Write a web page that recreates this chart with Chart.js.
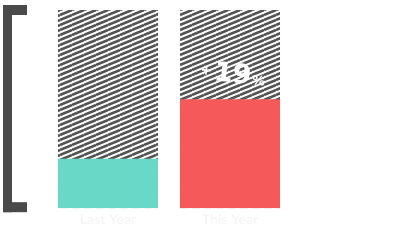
<!DOCTYPE html>
<html>
<head>
<meta charset="utf-8">
<script src="https://cdn.jsdelivr.net/npm/chart.js@4/dist/chart.umd.min.js"></script>
<style>
  body { margin: 0; background: #fff; }
  #wrap { width: 400px; height: 240px; }
</style>
</head>
<body>
<div id="wrap"><canvas id="chart"></canvas></div>
<script>
const labels = ['Last Year', 'This Year'];
const values = [25, 55];
const maxValues = [100, 100];
const barColors = ['#6ad8c6', '#f55959'];
const changeText = ['+', '19', '%'];

function makeStripes() {
  const tile = document.createElement('canvas');
  const w = 12, h = 5;
  tile.width = w;
  tile.height = h;
  const c = tile.getContext('2d');
  c.fillStyle = '#fff';
  c.fillRect(0, 0, w, h);
  c.strokeStyle = '#555';
  c.lineWidth = 2.6;
  for (let k = -1; k <= 1; k++) {
    c.beginPath();
    c.moveTo(0, h + k * h);
    c.lineTo(w, k * h);
    c.stroke();
  }
  return c.createPattern(tile, 'repeat');
}

const bracket = {
  id: 'bracket',
  beforeDraw(chart) {
    const ctx = chart.ctx;
    const area = chart.chartArea;
    const top = area.top - 5;
    const bottom = area.bottom + 4;
    ctx.save();
    ctx.fillStyle = '#4a4a4a';
    ctx.fillRect(3, top, 9, bottom - top);
    ctx.fillRect(3, top, 24, 10);
    ctx.fillRect(3, bottom - 10, 24, 10);
    ctx.restore();
  }
};

const changeLabel = {
  id: 'changeLabel',
  afterDatasetsDraw(chart) {
    const bar = chart.getDatasetMeta(0).data[1];
    const ctx = chart.ctx;
    ctx.save();
    ctx.translate(bar.x + 2, bar.y - 17);
    ctx.rotate(0.1);
    ctx.fillStyle = '#fff';
    ctx.textBaseline = 'alphabetic';
    ctx.font = 'bold 14px "DejaVu Sans"';
    const wPlus = ctx.measureText(changeText[0]).width;
    ctx.font = 'bold 27px "DejaVu Sans"';
    const wNum = ctx.measureText(changeText[1]).width;
    ctx.font = 'bold 13px "DejaVu Sans"';
    const wPct = ctx.measureText(changeText[2]).width;
    let x = -(wPlus + wNum + wPct + 3) / 2;
    ctx.font = 'bold 14px "DejaVu Sans"';
    ctx.fillText(changeText[0], x, -5);
    x += wPlus + 2;
    ctx.font = 'bold 27px "DejaVu Sans"';
    ctx.fillText(changeText[1], x, 0);
    x += wNum + 1;
    ctx.font = 'bold 13px "DejaVu Sans"';
    ctx.fillText(changeText[2], x, 0);
    ctx.restore();
  }
};

const ctx = document.getElementById('chart').getContext('2d');
new Chart(ctx, {
  type: 'bar',
  data: {
    labels: labels,
    datasets: [{
      data: values,
      backgroundColor: barColors,
      borderWidth: 0,
      grouped: false,
      barPercentage: 1,
      categoryPercentage: 0.82,
      order: 0
    }, {
      data: maxValues,
      backgroundColor: makeStripes(),
      borderWidth: 0,
      grouped: false,
      barPercentage: 1,
      categoryPercentage: 0.82,
      order: 1
    }]
  },
  options: {
    responsive: true,
    maintainAspectRatio: false,
    animation: false,
    layout: {
      padding: { left: 47, right: 109, top: 10, bottom: 9 }
    },
    plugins: {
      legend: { display: false },
      tooltip: { enabled: false }
    },
    scales: {
      x: {
        grid: { display: false, drawTicks: false },
        border: { display: false },
        ticks: {
          color: '#f6f6f6',
          font: { family: 'Lato', size: 14, weight: 'bold' },
          padding: 3
        }
      },
      y: {
        display: false,
        min: 0,
        max: 100
      }
    }
  },
  plugins: [bracket, changeLabel]
});
</script>
</body>
</html>
